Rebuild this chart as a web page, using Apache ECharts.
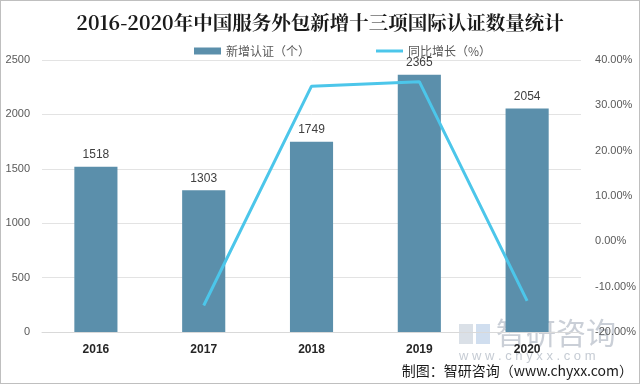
<!DOCTYPE html>
<html><head><meta charset="utf-8">
<script src="https://cdn.jsdelivr.net/npm/echarts@6/dist/echarts.min.js"></script>
<style>html,body{margin:0;padding:0;background:#fff}#c{width:640px;height:384px;box-sizing:border-box;border:1px solid #bfbfbf}</style>
</head><body><div id="c"></div>
<script>
const categories = ['2016','2017','2018','2019','2020'];
const certCounts = [1518, 1303, 1749, 2365, 2054];
const yoyGrowth = [null, -14.16, 34.23, 35.22, -13.15];
const leftTicks = [0, 500, 1000, 1500, 2000, 2500];
const rightTicks = [-20, -10, 0, 10, 20, 30, 40];

const chart = echarts.init(document.getElementById('c'));
chart.setOption({
  backgroundColor: '#fff',
  animation: false,
  title: {
    text: '2016-2020年中国服务外包新增十三项国际认证数量统计',
    left: 'center', top: 7,
    textStyle: { fontFamily: '"Noto Serif CJK SC","Noto Sans CJK SC",serif', fontWeight: 'bold', fontSize: 19.5, color: '#1a1a1a' }
  },
  legend: {
    top: 39, left: 188, itemGap: 66, itemWidth: 27, itemHeight: 7,
    textStyle: { color: '#595959', fontSize: 12, fontFamily: '"Noto Sans CJK SC",sans-serif' },
    data: [{ name: '新增认证（个）', icon: 'rect' }, { name: '同比增长（%）', icon: 'path://M0,0 L27,0 L27,3 L0,3 Z' }]
  },
  grid: { left: 41, right: 57, top: 59, bottom: 51 },
  xAxis: {
    type: 'category', data: categories,
    axisLine: { lineStyle: { color: '#d9d9d9' } }, axisTick: { show: false },
    axisLabel: { color: '#262626', fontWeight: 'bold', fontSize: 12, margin: 12 }
  },
  yAxis: [{
    type: 'value', min: 0, max: 2500, interval: 500,
    axisLabel: { color: '#595959', fontSize: 11, margin: 12, formatter: v => String(v) },
    splitLine: { lineStyle: { color: '#e3e3e3' } },
    axisLine: { show: false }, axisTick: { show: false }
  }, {
    type: 'value', min: -20, max: 40, interval: 10,
    axisLabel: { color: '#595959', fontSize: 11, margin: 14, formatter: v => v.toFixed(2) + '%' },
    splitLine: { show: false }, axisLine: { show: false }, axisTick: { show: false }
  }],
  series: [{
    name: '新增认证（个）', type: 'bar', data: certCounts, barWidth: '40%',
    itemStyle: { color: '#5b8fab' },
    label: { show: true, position: 'top', color: '#404040', fontSize: 12, distance: 6 }
  }, {
    name: '同比增长（%）', type: 'line', yAxisIndex: 1, data: yoyGrowth,
    showSymbol: false, symbol: 'none',
    lineStyle: { color: '#4cc6ea', width: 3 }, itemStyle: { color: '#4cc6ea' }
  }],
  graphic: [
    { type: 'rect', left: 458, top: 323, shape: { width: 14, height: 20 }, style: { fill: 'rgba(150,165,185,0.35)' } },
    { type: 'rect', left: 475, top: 323, shape: { width: 14, height: 20 }, style: { fill: 'rgba(120,160,210,0.35)' } },
    { type: 'text', left: 495, top: 317, style: { text: '智研咨询', fill: 'rgba(150,160,175,0.5)', fontSize: 30, fontFamily: '"Noto Sans CJK SC",sans-serif' } },
    { type: 'text', left: 458, top: 349, style: { text: 'w w w . c h y x x . c o m', fill: 'rgba(150,160,175,0.55)', fontSize: 13 } },
    { type: 'text', right: 6, top: 363, style: { text: '制图：智研咨询（www.chyxx.com）', fill: '#1a1a1a', fontSize: 14, fontFamily: '"Noto Sans CJK SC",sans-serif' } }
  ]
});
</script></body></html>
